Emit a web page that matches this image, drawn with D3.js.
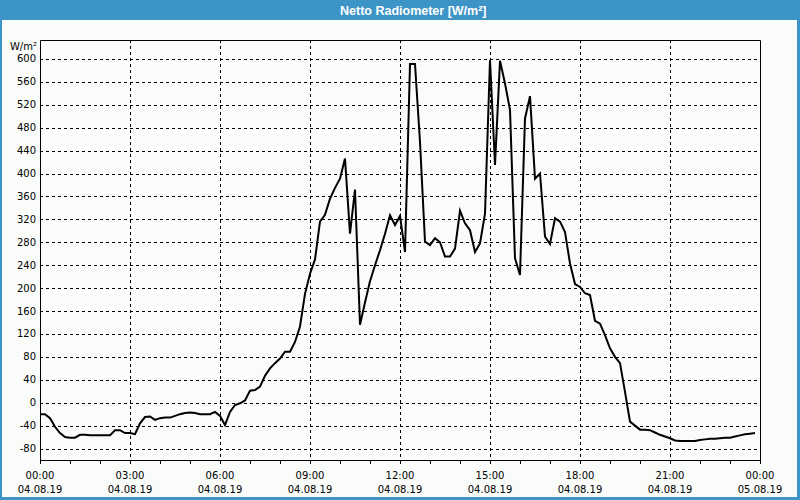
<!DOCTYPE html>
<html>
<head>
<meta charset="utf-8">
<script src="https://cdn.jsdelivr.net/npm/d3@7"></script>
<style>
  html, body { margin: 0; padding: 0; background: #fff; }
  svg { display: block; }
</style>
</head>
<body>
<svg id="chart" width="800" height="500"></svg>
<script>
// ---- data (10-minute samples starting 04.08.19 00:00) ----
const title = "Netto Radiometer [W/m²]";
const unitLabel = "W/m²";
const stepMinutes = 10;
const values = [
  -20, -20, -27, -42, -53, -60, -61, -61, -56, -56,
  -57, -57, -57, -57, -57, -48, -48, -53, -53, -55,
  -36, -25, -24, -30, -27, -26, -26, -23, -20, -18,
  -17, -18, -20, -20, -20, -16, -23, -39, -16, -4,
  -1, 4, 21, 22, 28, 47, 60, 69, 77, 89,
  89, 106, 133, 190, 225, 250, 316, 328, 356, 375,
  391, 426, 295, 372, 136, 175, 212, 240, 266, 295,
  327, 310, 326, 263, 591, 591, 455, 281, 275, 287,
  280, 255, 255, 269, 335, 313, 301, 263, 278, 330,
  598, 415, 597, 557, 511, 252, 223, 496, 535, 391,
  400, 290, 277, 322, 316, 298, 243, 207, 202, 191,
  188, 143, 138, 118, 95, 80, 69, 19, -33, -40,
  -47, -47, -48, -52, -56, -59, -62, -66, -67, -67,
  -67, -67, -65, -64, -63, -63, -62, -61, -61, -59,
  -57, -55, -54, -53
];
const yTicks = [-80, -40, 0, 40, 80, 120, 160, 200, 240, 280, 320, 360, 400, 440, 480, 520, 560, 600];
const xTickMinutes = [0, 180, 360, 540, 720, 900, 1080, 1260, 1440];
const xTickTimes = ["00:00", "03:00", "06:00", "09:00", "12:00", "15:00", "18:00", "21:00", "00:00"];
const xTickDates = ["04.08.19", "04.08.19", "04.08.19", "04.08.19", "04.08.19", "04.08.19", "04.08.19", "04.08.19", "05.08.19"];
const minorTickMinutes = d3.range(0, 1441, 60);

// ---- layout ----
const svg = d3.select("#chart");
const W = 800, H = 500;
const plot = { left: 40, right: 760, top: 40, bottom: 460 };
const blue = "#3d94c6";
const font = "'DejaVu Sans', Verdana, sans-serif";

// window frame
svg.append("rect").attr("x", 0).attr("y", 0).attr("width", W).attr("height", H).attr("fill", blue);
svg.append("rect").attr("x", 2).attr("y", 20).attr("width", W - 5).attr("height", H - 23).attr("fill", "#fafcfa");

svg.append("text")
  .attr("x", 340).attr("y", 15)
  .attr("fill", "#fff")
  .attr("font-family", "'Liberation Sans', Arial, sans-serif")
  .attr("font-weight", "bold")
  .attr("font-size", 12.5)
  .text(title);

const x = d3.scaleLinear().domain([0, 1440]).range([plot.left, plot.right]);
const y = d3.scaleLinear().domain([-100, 633]).range([plot.bottom, plot.top]);

// horizontal grid
svg.append("g").selectAll("line").data(yTicks).join("line")
  .attr("x1", plot.left).attr("x2", plot.right)
  .attr("y1", d => Math.round(y(d)) + 0.5).attr("y2", d => Math.round(y(d)) + 0.5)
  .attr("stroke", "#000").attr("stroke-width", 1).attr("stroke-dasharray", "3,3");

// vertical grid
svg.append("g").selectAll("line").data(xTickMinutes.slice(1, -1)).join("line")
  .attr("x1", d => Math.round(x(d)) + 0.5).attr("x2", d => Math.round(x(d)) + 0.5)
  .attr("y1", plot.top).attr("y2", plot.bottom)
  .attr("stroke", "#000").attr("stroke-width", 1).attr("stroke-dasharray", "3,3");

// frame
svg.append("path")
  .attr("d", `M${plot.left + 0.5},${plot.bottom + 0.5}V${plot.top + 0.5}H${plot.right + 0.5}V${plot.bottom + 0.5}Z`)
  .attr("fill", "none").attr("stroke", "#000").attr("stroke-width", 1);

// x axis ticks
svg.append("g").selectAll("line").data(minorTickMinutes).join("line")
  .attr("x1", d => Math.round(x(d)) + 0.5).attr("x2", d => Math.round(x(d)) + 0.5)
  .attr("y1", plot.bottom).attr("y2", plot.bottom + 4)
  .attr("stroke", "#000").attr("stroke-width", 1);

// y labels
svg.append("g").selectAll("text").data(yTicks).join("text")
  .attr("x", 36).attr("y", d => y(d))
  .attr("dy", "0.35em")
  .attr("text-anchor", "end")
  .attr("font-family", font).attr("font-size", 10).attr("fill", "#000")
  .text(d => d);

svg.append("text")
  .attr("x", 37).attr("y", 50)
  .attr("text-anchor", "end")
  .attr("font-family", font).attr("font-size", 10).attr("fill", "#000")
  .text(unitLabel);

// x labels
const xl = svg.append("g").selectAll("g").data(xTickMinutes).join("g");
xl.append("text")
  .attr("x", d => x(d)).attr("y", 479)
  .attr("text-anchor", "middle")
  .attr("font-family", font).attr("font-size", 10).attr("fill", "#000")
  .text((d, i) => xTickTimes[i]);
xl.append("text")
  .attr("x", d => x(d)).attr("y", 493)
  .attr("text-anchor", "middle")
  .attr("font-family", font).attr("font-size", 10).attr("fill", "#000")
  .text((d, i) => xTickDates[i]);

// data line
const line = d3.line()
  .x((d, i) => x(i * stepMinutes))
  .y(d => y(d));
svg.append("path")
  .datum(values)
  .attr("d", line)
  .attr("fill", "none")
  .attr("stroke", "#000")
  .attr("stroke-width", 2)
  .attr("stroke-linejoin", "miter");
</script>
</body>
</html>
